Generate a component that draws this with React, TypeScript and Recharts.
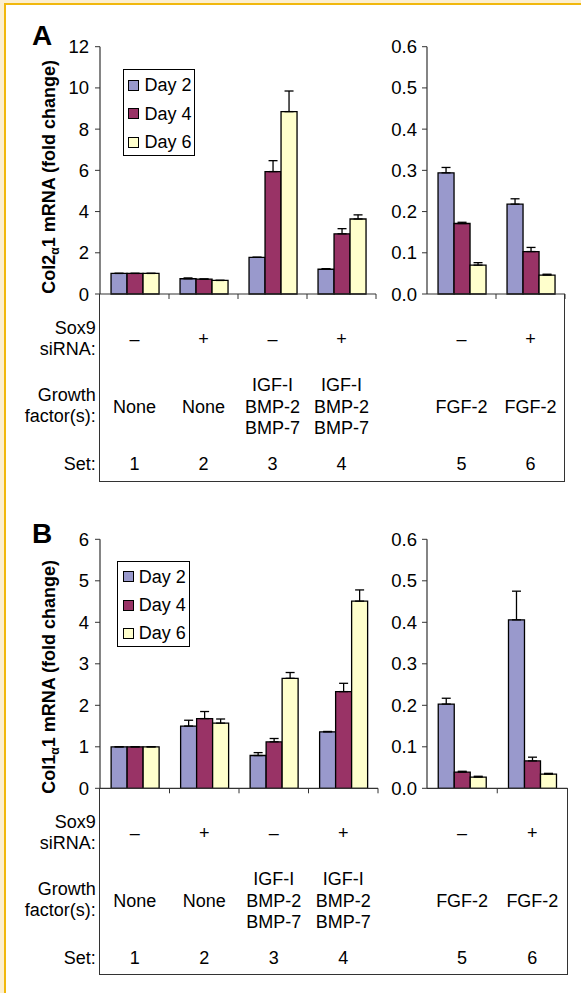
import React from 'react';
import { BarChart, Bar, XAxis, YAxis, ErrorBar, Legend } from 'recharts';

// ---------- data ----------
const seriesNames = ['Day 2', 'Day 4', 'Day 6'];
const seriesColors = ['#9999cc', '#993366', '#ffffcc'];

const setLabels = ['1', '2', '3', '4', '5', '6'];
const sox9Labels = ['–', '+', '–', '+', '–', '+'];
const growthLabels = [
  ['None'],
  ['None'],
  ['IGF-I', 'BMP-2', 'BMP-7'],
  ['IGF-I', 'BMP-2', 'BMP-7'],
  ['FGF-2'],
  ['FGF-2'],
];
const sox9RowLabel = ['Sox9', 'siRNA:'];
const growthRowLabel = ['Growth', 'factor(s):'];
const setRowLabel = 'Set:';

// Panel A: Col2a1
const col2Day2 = [1.0, 0.74, 1.78, 1.2, 0.294, 0.218];
const col2Day4 = [1.0, 0.72, 5.94, 2.92, 0.171, 0.103];
const col2Day6 = [1.0, 0.66, 8.85, 3.64, 0.07, 0.046];
const col2Err2 = [0, 0.04, 0, 0.03, 0.013, 0.013];
const col2Err4 = [0, 0.01, 0.53, 0.25, 0.003, 0.01];
const col2Err6 = [0, 0, 1.0, 0.2, 0.006, 0.002];

// Panel B: Col1a1
const col1Day2 = [1.0, 1.5, 0.79, 1.36, 0.203, 0.406];
const col1Day4 = [1.0, 1.68, 1.12, 2.33, 0.039, 0.066];
const col1Day6 = [1.0, 1.57, 2.65, 4.51, 0.027, 0.034];
const col1Err2 = [0, 0.14, 0.07, 0.01, 0.014, 0.069];
const col1Err4 = [0, 0.17, 0.08, 0.2, 0.002, 0.009];
const col1Err6 = [0, 0.1, 0.14, 0.27, 0.002, 0.002];

const leftSets = [0, 1, 2, 3];
const rightSets = [4, 5];

const ticksA = [0, 2, 4, 6, 8, 10, 12];
const ticksB = [0, 1, 2, 3, 4, 5, 6];
const ticksSmall = [0, 0.1, 0.2, 0.3, 0.4, 0.5, 0.6];

// ---------- helpers ----------
const axisColor = '#333';
const FONT = '"Liberation Sans", Arial, Helvetica, sans-serif';
const TEXT_SIZE = 18;

function buildRows(idx: number[], d2: number[], d4: number[], d6: number[], e2: number[], e4: number[], e6: number[]) {
  return idx.map((i) => ({
    set: setLabels[i],
    d2: d2[i],
    d4: d4[i],
    d6: d6[i],
    e2: [0, e2[i]],
    e4: [0, e4[i]],
    e6: [0, e6[i]],
  }));
}

const dataALeft = buildRows(leftSets, col2Day2, col2Day4, col2Day6, col2Err2, col2Err4, col2Err6);
const dataARight = buildRows(rightSets, col2Day2, col2Day4, col2Day6, col2Err2, col2Err4, col2Err6);
const dataBLeft = buildRows(leftSets, col1Day2, col1Day4, col1Day6, col1Err2, col1Err4, col1Err6);
const dataBRight = buildRows(rightSets, col1Day2, col1Day4, col1Day6, col1Err2, col1Err4, col1Err6);

const TableTick = (props: any) => {
  const { x, y, payload, width, visibleTicksCount } = props;
  const i = setLabels.indexOf(String(payload.value));
  const half = width && visibleTicksCount ? width / visibleTicksCount / 2 : 0;
  const gf = growthLabels[i] || [];
  const t = { textAnchor: 'middle' as const, fontSize: TEXT_SIZE, fill: '#000', fontFamily: FONT };
  return (
    <g>
      {half > 0 && <line x1={x + half} x2={x + half} y1={y} y2={y + 5} stroke={axisColor} strokeWidth={1} />}
      <text x={x} y={y + 51} {...t}>{sox9Labels[i]}</text>
      {gf.map((g, k) => (
        <text key={k} x={x} y={y + 118.5 + (k - (gf.length - 1) / 2) * 21.6} {...t}>{g}</text>
      ))}
      <text x={x} y={y + 176} {...t}>{setLabels[i]}</text>
    </g>
  );
};

const RowLabels = (props: any) => {
  const vb = props.viewBox || { x: 100, y: 294 };
  const rx = vb.x - 4.3;
  const t = { textAnchor: 'end' as const, fontSize: TEXT_SIZE, fill: '#000', fontFamily: FONT };
  return (
    <g>
      <text x={rx} y={vb.y + 40} {...t}>{sox9RowLabel[0]}</text>
      <text x={rx} y={vb.y + 61} {...t}>{sox9RowLabel[1]}</text>
      <text x={rx} y={vb.y + 106.7} {...t}>{growthRowLabel[0]}</text>
      <text x={rx} y={vb.y + 127.7} {...t}>{growthRowLabel[1]}</text>
      <text x={rx} y={vb.y + 176} {...t}>{setRowLabel}</text>
    </g>
  );
};

const YTitle = (props: any) => {
  const { viewBox, gene, letter, letterDy, titleDy } = props;
  const vb = viewBox || { x: 0, y: 0, width: 100, height: 0 };
  const cx = vb.x + 55;
  const cy = vb.y + vb.height / 2 + titleDy;
  return (
    <g fontFamily={FONT}>
      <text x={vb.x + 32} y={vb.y + letterDy} fontSize={28} fontWeight="bold" fill="#000">{letter}</text>
      <text transform={`rotate(-90 ${cx} ${cy})`} x={cx} y={cy} textAnchor="middle" fontSize={18} fontWeight="bold" fill="#000">
        {`Col${gene}`}
        <tspan dy={4} fontSize={12}>α</tspan>
        <tspan dy={-4}>1 mRNA (fold change)</tspan>
      </text>
    </g>
  );
};

const LegendBox = (props: any) => {
  const items = (props.payload || []).map((p: any) => String(p.value));
  const names = items.length ? items : seriesNames;
  return (
    <div
      style={{
        boxSizing: 'border-box',
        width: '100%',
        height: 86.4,
        border: '1.5px solid #000',
        background: '#fff',
        paddingTop: 1,
        paddingLeft: 4.8,
        fontFamily: FONT,
      }}
    >
      {names.map((n: string) => (
        <div key={n} style={{ display: 'flex', alignItems: 'center', height: 28.3 }}>
          <span
            style={{
              display: 'inline-block',
              boxSizing: 'border-box',
              width: 11,
              height: 11,
              border: '1px solid #000',
              background: seriesColors[seriesNames.indexOf(n)],
              marginRight: 5,
              flex: 'none',
            }}
          />
          <span style={{ fontSize: TEXT_SIZE, lineHeight: '18px', color: '#000', whiteSpace: 'nowrap' }}>{n}</span>
        </div>
      ))}
    </div>
  );
};

const bars = (errW: number) =>
  ['d2', 'd4', 'd6'].map((k, i) => (
    <Bar
      key={k}
      dataKey={k}
      name={seriesNames[i]}
      fill={seriesColors[i]}
      stroke="#000"
      strokeWidth={1.3}
      isAnimationActive={false}
    >
      <ErrorBar dataKey={`e${k.slice(1)}`} width={errW} stroke="#000" strokeWidth={1.3} direction="y" isAnimationActive={false} />
    </Bar>
  ));

const yTickStyle = { fill: '#000', fontSize: 18.5, fontFamily: FONT };

function Panel(props: any) {
  const { top, left, leftW, rightW, height, marginTop, xAxisH, dataL, dataR, ticksL, domainL, gene, letter, letterDy, titleDy, legendPos, rightMarginL, rightMarginR } = props;
  return (
    <>
      <div style={{ position: 'absolute', left: 0, top }}>
        <BarChart width={leftW} height={height} data={dataL} margin={{ top: marginTop, right: rightMarginL, bottom: 0, left: 0 }} barCategoryGap="16%" barGap={0}>
          <XAxis
            dataKey="set"
            height={xAxisH}
            interval={0}
            tickLine={false}
            tickSize={0}
            tickMargin={0}
            axisLine={{ stroke: axisColor, strokeWidth: 1.2 }}
            tick={(p: any) => <TableTick {...p} />}
            label={<RowLabels />}
          />
          <YAxis
            width={100}
            domain={domainL}
            ticks={ticksL}
            interval={0}
            tickSize={5}
            tickMargin={6}
            tick={yTickStyle}
            axisLine={{ stroke: axisColor, strokeWidth: 1.2 }}
            tickLine={{ stroke: axisColor }}
            label={<YTitle gene={gene} letter={letter} letterDy={letterDy} titleDy={titleDy} />}
          />
          {bars(4.5)}
          <Legend
            layout="vertical"
            align="center"
            verticalAlign="middle"
            content={<LegendBox />}
            wrapperStyle={{ left: legendPos.left, top: legendPos.top, width: legendPos.width }}
          />
        </BarChart>
      </div>
      <div style={{ position: 'absolute', left, top }}>
        <BarChart width={rightW} height={height} data={dataR} margin={{ top: marginTop, right: rightMarginR, bottom: 0, left: 0 }} barCategoryGap="16%" barGap={0}>
          <XAxis
            dataKey="set"
            height={xAxisH}
            interval={0}
            tickLine={false}
            tickSize={0}
            tickMargin={0}
            axisLine={{ stroke: axisColor, strokeWidth: 1.2 }}
            tick={(p: any) => <TableTick {...p} />}
          />
          <YAxis
            width={47}
            domain={[0, 0.6]}
            ticks={ticksSmall}
            interval={0}
            tickSize={5}
            tickMargin={5}
            tick={yTickStyle}
            tickFormatter={(v: number) => v.toFixed(1)}
            axisLine={{ stroke: axisColor, strokeWidth: 1.2 }}
            tickLine={{ stroke: axisColor }}
          />
          {bars(4.5)}
        </BarChart>
      </div>
    </>
  );
}

export default function App() {
  const boxBorder = `1.2px solid ${axisColor}`;
  return (
    <div
      style={{
        position: 'absolute',
        left: 0,
        top: 0,
        width: 581,
        height: 993,
        overflow: 'hidden',
        background: '#fcefcf',
        fontFamily: FONT,
      }}
    >
      <div
        style={{
          position: 'absolute',
          left: 4,
          top: 3,
          right: 0,
          bottom: 0,
          background: '#fff',
          borderLeft: '2px solid #f1b80d',
          borderTop: '2px solid #f1b80d',
        }}
      />
      {/* table frames */}
      <div style={{ position: 'absolute', left: 99.4, top: 294, width: 465.6, height: 188, boxSizing: 'border-box', borderLeft: boxBorder, borderRight: boxBorder, borderBottom: boxBorder }} />
      <div style={{ position: 'absolute', left: 99.4, top: 788.3, width: 468.6, height: 187, boxSizing: 'border-box', borderLeft: boxBorder, borderRight: boxBorder, borderBottom: boxBorder }} />

      <Panel
        top={0}
        left={380}
        leftW={380}
        rightW={190}
        height={490}
        marginTop={46.7}
        xAxisH={196}
        dataL={dataALeft}
        dataR={dataARight}
        ticksL={ticksA}
        domainL={[0, 12]}
        gene="2"
        letter="A"
        letterDy={-1.7}
        titleDy={6.5}
        legendPos={{ left: 122.7, top: 69.3, width: 72.3 }}
        rightMarginL={4}
        rightMarginR={5}
      />
      <Panel
        top={495}
        left={380}
        leftW={382}
        rightW={192}
        height={495}
        marginTop={44.3}
        xAxisH={201.7}
        dataL={dataBLeft}
        dataR={dataBRight}
        ticksL={ticksB}
        domainL={[0, 6]}
        gene="1"
        letter="B"
        letterDy={3.7}
        titleDy={13}
        legendPos={{ left: 117, top: 65.7, width: 73 }}
        rightMarginL={4}
        rightMarginR={4.5}
      />
    </div>
  );
}
